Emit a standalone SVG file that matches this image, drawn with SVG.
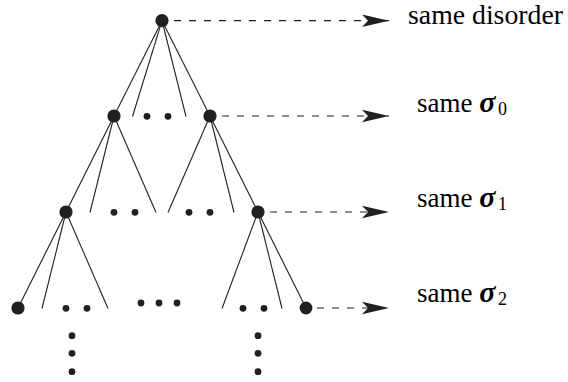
<svg xmlns="http://www.w3.org/2000/svg" width="568" height="382" viewBox="0 0 568 382">
<style>
.edge{stroke:#231f20;stroke-width:1.1;fill:none;stroke-linecap:butt}
.dash{stroke:#231f20;stroke-width:1.2;fill:none;stroke-dasharray:7 8}
.node{fill:#231f20}
.dot{fill:#231f20}
</style>
<defs>
<marker id="stealth" markerWidth="28" markerHeight="14" refX="27" refY="7" orient="auto" markerUnits="userSpaceOnUse">
<path d="M0,0.8 L27,7 L0,13.2 L6,7 Z" fill="#231f20"/>
</marker>
</defs>
<g id="connectors">
<line class="edge" x1="162" y1="20.7" x2="114" y2="116"/>
<line class="edge" x1="162" y1="20.7" x2="132.5" y2="116.5"/>
<line class="edge" x1="162" y1="20.7" x2="186" y2="116.5"/>
<line class="edge" x1="162" y1="20.7" x2="210" y2="116"/>
<line class="edge" x1="114" y1="116" x2="66" y2="212"/>
<line class="edge" x1="114" y1="116" x2="90" y2="212.5"/>
<line class="edge" x1="114" y1="116" x2="156" y2="212.5"/>
<line class="edge" x1="210" y1="116" x2="168" y2="212.5"/>
<line class="edge" x1="210" y1="116" x2="234" y2="212.5"/>
<line class="edge" x1="210" y1="116" x2="258" y2="212"/>
<line class="edge" x1="66" y1="212" x2="18" y2="308"/>
<line class="edge" x1="66" y1="212" x2="42" y2="308.5"/>
<line class="edge" x1="66" y1="212" x2="108" y2="308.5"/>
<line class="edge" x1="258" y1="212" x2="222" y2="308.5"/>
<line class="edge" x1="258" y1="212" x2="282" y2="308.5"/>
<line class="edge" x1="258" y1="212" x2="306" y2="308"/>
<line class="dash" x1="174" y1="20.7" x2="389" y2="20.7" marker-end="url(#stealth)"/>
<line class="dash" x1="222" y1="116" x2="389" y2="116" marker-end="url(#stealth)"/>
<line class="dash" x1="270" y1="212" x2="389" y2="212" marker-end="url(#stealth)"/>
<line class="dash" x1="317" y1="308" x2="389" y2="308" marker-end="url(#stealth)"/>
</g>
<g id="root"><circle class="node" cx="162" cy="20.7" r="6.6"/></g>
<g id="n1a"><circle class="node" cx="114" cy="116" r="6.6"/></g>
<g id="n1b"><circle class="node" cx="210" cy="116" r="6.6"/></g>
<g id="n2a"><circle class="node" cx="66" cy="212" r="6.6"/></g>
<g id="n2b"><circle class="node" cx="258" cy="212" r="6.6"/></g>
<g id="n3a"><circle class="node" cx="18" cy="308" r="6.6"/></g>
<g id="n3b"><circle class="node" cx="306" cy="308" r="6.4"/></g>
<g id="ellipses">
<circle class="dot" cx="147" cy="116.3" r="3.4"/>
<circle class="dot" cx="168" cy="116.3" r="3.4"/>
<circle class="dot" cx="114" cy="212.3" r="3.4"/>
<circle class="dot" cx="135" cy="212.3" r="3.4"/>
<circle class="dot" cx="189" cy="212.3" r="3.4"/>
<circle class="dot" cx="210" cy="212.3" r="3.4"/>
<circle class="dot" cx="66" cy="308.3" r="3.4"/>
<circle class="dot" cx="87" cy="308.3" r="3.4"/>
<circle class="dot" cx="141" cy="303" r="3.4"/>
<circle class="dot" cx="159" cy="303" r="3.4"/>
<circle class="dot" cx="177" cy="303" r="3.4"/>
<circle class="dot" cx="243" cy="308.3" r="3.4"/>
<circle class="dot" cx="264" cy="308.3" r="3.4"/>
<circle class="dot" cx="72" cy="335.7" r="3.4"/>
<circle class="dot" cx="72" cy="353.3" r="3.4"/>
<circle class="dot" cx="72" cy="371.7" r="3.4"/>
<circle class="dot" cx="258" cy="335.7" r="3.4"/>
<circle class="dot" cx="258" cy="353.3" r="3.4"/>
<circle class="dot" cx="258" cy="371.7" r="3.4"/>
</g>
<g id="labels">
<text x="408" y="24.2" font-family="Liberation Serif" font-size="27" textLength="155" lengthAdjust="spacingAndGlyphs">same disorder</text>
<text x="417" y="112" font-family="Liberation Serif" font-size="27">same <tspan font-size="30" font-weight="bold" font-style="italic">σ</tspan><tspan dx="2.5" dy="3" font-size="18">0</tspan></text>
<text x="417" y="207" font-family="Liberation Serif" font-size="27">same <tspan font-size="30" font-weight="bold" font-style="italic">σ</tspan><tspan dx="2.5" dy="3" font-size="18">1</tspan></text>
<text x="417" y="302" font-family="Liberation Serif" font-size="27">same <tspan font-size="30" font-weight="bold" font-style="italic">σ</tspan><tspan dx="2.5" dy="3" font-size="18">2</tspan></text>
</g>
</svg>
